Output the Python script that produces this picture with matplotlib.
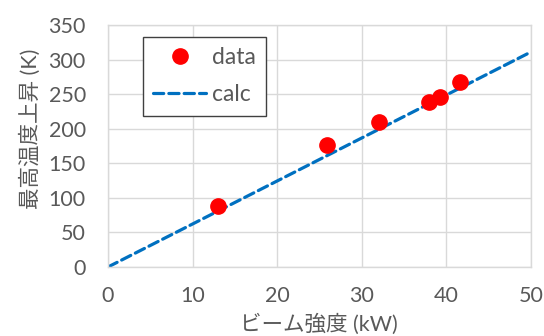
import matplotlib
matplotlib.use("Agg")
import matplotlib.pyplot as plt

# Measured peak temperature rise vs beam power
beam_kw = [13.0, 25.9, 32.0, 38.0, 39.2, 41.6]
temp_rise = [88, 177, 209, 239, 246, 267]

# Calculated (linear) prediction
calc_kw = [0, 50]
calc_rise = [0, 311]

x_ticks = [0, 10, 20, 30, 40, 50]
y_ticks = [0, 50, 100, 150, 200, 250, 300, 350]

plt.rcParams['font.family'] = ['Lato', 'Noto Sans CJK JP', 'DejaVu Sans']
text_color = '#595959'
grid_color = '#D9D9D9'
fs = 15.5

fig = plt.figure(figsize=(5.44, 3.36), dpi=100)
ax = fig.add_axes([0.1985, 0.2054, 0.7775, 0.7202])

ax.plot(calc_kw, calc_rise, linestyle=(0, (3.2, 1.6)), color='#0070C0',
        linewidth=2.3, dash_capstyle='round', label='calc', zorder=2)
ax.plot(beam_kw, temp_rise, linestyle='none', marker='o', markersize=11,
        color='#FF0000', label='data', zorder=3)

ax.set_xlim(0, 50)
ax.set_ylim(0, 350)
ax.set_xticks(x_ticks)
ax.set_yticks(y_ticks)
ax.grid(True, color=grid_color, linewidth=1)
ax.set_axisbelow(True)
for s in ax.spines.values():
    s.set_color(grid_color)
    s.set_linewidth(1)
ax.tick_params(length=0, labelsize=fs, labelcolor=text_color)
ax.tick_params(axis='y', pad=16)
ax.tick_params(axis='x', pad=14)

ax.set_xlabel('ビーム強度 (kW)', fontsize=fs, color=text_color)
ax.set_ylabel('最高温度上昇 (K)', fontsize=fs, color=text_color)
ax.xaxis.label.set_va('center')
ax.yaxis.label.set_va('center')
ax.xaxis.set_label_coords(0.499, -0.238)
ax.yaxis.set_label_coords(-0.185, 0.57)

handles, labels = ax.get_legend_handles_labels()
leg = ax.legend(handles[::-1], labels[::-1], loc='upper left',
                bbox_to_anchor=(0.083, 0.95), fontsize=16.5, frameon=True,
                fancybox=False, edgecolor='#404040', framealpha=1,
                handlelength=2.3, handletextpad=0.25, borderpad=0.45,
                labelspacing=0.7, borderaxespad=0)
leg.get_frame().set_linewidth(1)
for t in leg.get_texts():
    t.set_color(text_color)

fig.savefig('out.png', dpi=100)
